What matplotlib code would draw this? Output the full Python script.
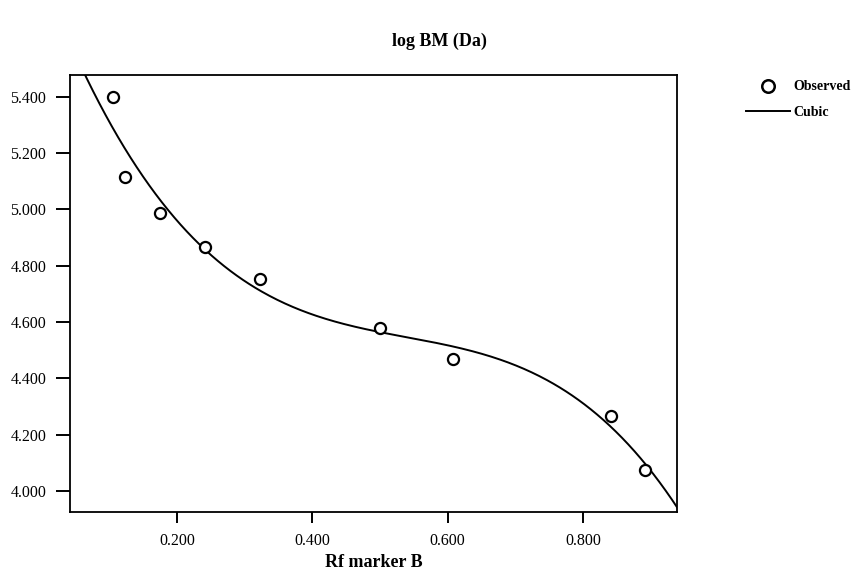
import numpy as np
import matplotlib
matplotlib.use("Agg")
import matplotlib.pyplot as plt
from matplotlib.lines import Line2D

plt.rcParams['font.family'] = ['Liberation Serif', 'DejaVu Serif']

# Observed data
rf = [0.105, 0.123, 0.175, 0.241, 0.323, 0.500, 0.608, 0.842, 0.891]
log_bm = [5.400, 5.116, 4.986, 4.867, 4.754, 4.580, 4.470, 4.265, 4.075]

x_ticks = [0.2, 0.4, 0.6, 0.8]
x_tick_labels = ["0.200", "0.400", "0.600", "0.800"]
y_ticks = [4.0, 4.2, 4.4, 4.6, 4.8, 5.0, 5.2, 5.4]
y_tick_labels = ["4.000", "4.200", "4.400", "4.600", "4.800", "5.000", "5.200", "5.400"]

fig = plt.figure(figsize=(8.61, 5.72), dpi=100)
ax = fig.add_axes([0.0813, 0.105, 0.705, 0.764])

# Cubic regression fit of the observed data
coef = np.polyfit(rf, log_bm, 3)
xs = np.linspace(0.03, 0.95, 400)
ax.plot(xs, np.polyval(coef, xs), color='black', lw=1.4, zorder=2)
ax.plot(rf, log_bm, linestyle='none', marker='o', markersize=8,
        markerfacecolor='white', markeredgecolor='black', markeredgewidth=1.6, zorder=3)

ax.set_xlim(0.042, 0.939)
ax.set_ylim(3.925, 5.478)
ax.set_xticks(x_ticks)
ax.set_xticklabels(x_tick_labels)
ax.set_yticks(y_ticks)
ax.set_yticklabels(y_tick_labels)
ax.tick_params(direction='out', width=1.4, labelsize=11.5, top=False, right=False)
ax.tick_params(axis='y', length=10, pad=7)
ax.tick_params(axis='x', length=8, pad=7)
for s in ax.spines.values():
    s.set_linewidth(1.3)

ax.set_xlabel("Rf marker B", fontsize=13, fontweight='bold', labelpad=4)
fig.text(0.51, 0.928, "log BM (Da)", ha='center', va='center', fontsize=13, fontweight='bold')

handles = [Line2D([], [], linestyle='none', marker='o', markersize=9, markerfacecolor='white',
                  markeredgecolor='black', markeredgewidth=1.8),
           Line2D([], [], color='black', lw=1.4)]
ax.legend(handles, ["Observed", "Cubic"], loc='upper left', bbox_to_anchor=(1.093, 1.016),
          frameon=False, handlelength=3.2, handletextpad=0.2, labelspacing=0.9,
          prop={'weight': 'bold', 'size': 10})

fig.savefig("out.png", dpi=100)
